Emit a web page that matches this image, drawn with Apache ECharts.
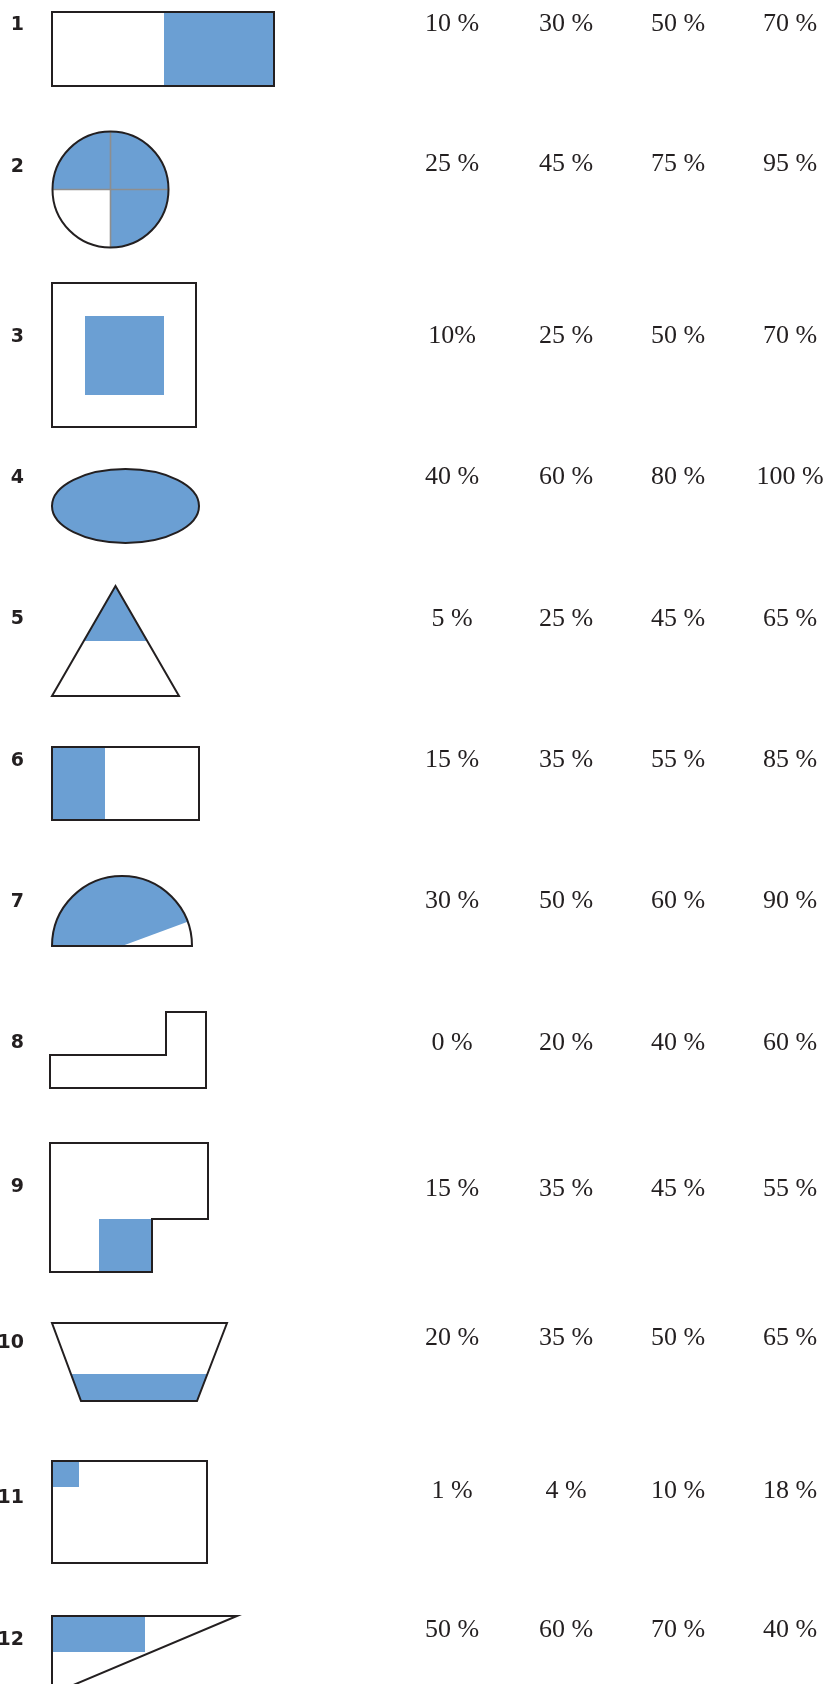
<!DOCTYPE html>
<html><head><meta charset="utf-8">
<script src="https://cdn.jsdelivr.net/npm/echarts@6/dist/echarts.min.js"></script>
<style>html,body{margin:0;padding:0;background:#fff}#c{width:827px;height:1684px}</style>
</head><body><div id="c"></div>
<script>
// ---- content ----
const rowLabels = ['1','2','3','4','5','6','7','8','9','10','11','12'];
const choiceA = ['10 %','25 %','10%','40 %','5 %','15 %','30 %','0 %','15 %','20 %','1 %','50 %'];
const choiceB = ['30 %','45 %','25 %','60 %','25 %','35 %','50 %','20 %','35 %','35 %','4 %','60 %'];
const choiceC = ['50 %','75 %','50 %','80 %','45 %','55 %','60 %','40 %','45 %','50 %','10 %','70 %'];
const choiceD = ['70 %','95 %','70 %','100 %','65 %','85 %','90 %','60 %','55 %','65 %','18 %','40 %'];

// ---- layout (axis units = page pixels) ----
const colX = [452, 566, 678, 790];
const textY = [24, 164.5, 336, 477, 619, 760, 901, 1043, 1189, 1338, 1491, 1630];
const labelY = [25, 167, 337, 478, 619, 761, 902, 1043, 1187, 1343, 1498, 1640];
const labelRight = 24;

const INK = '#231f20', BLUE = '#6b9fd3', GRAY = '#8e8e8e', LW = 2;
const choices = [choiceA, choiceB, choiceC, choiceD];

const textData = [];
rowLabels.forEach((r, i) => choices.forEach((col, j) => textData.push([colX[j], textY[i], i, j])));
const labelData = rowLabels.map((r, i) => [labelRight, labelY[i], i]);

function shapeItem(params, api) {
  const i = params.dataIndex;
  const P = (x, y) => api.coord([x, y]);
  const R = (x1, y1, x2, y2, style) => {
    const a = P(x1, y1), b = P(x2, y2);
    return {type: 'rect', shape: {x: a[0], y: a[1], width: b[0] - a[0], height: b[1] - a[1]}, style};
  };
  const G = (pts, style) => ({type: 'polygon', shape: {points: pts.map(p => P(p[0], p[1]))}, style});
  const fillS = {fill: BLUE};
  const lineS = {fill: 'none', stroke: INK, lineWidth: LW};
  let ch = [];
  switch (i) {
    case 0:
      ch = [R(164, 12, 274, 86, fillS), R(52, 12, 274, 86, lineS)]; break;
    case 1: {
      const c = P(110.5, 189.5), e = P(168.5, 189.5); const r = e[0] - c[0];
      const t = P(110.5, 131.5), b = P(110.5, 247.5), l = P(52.5, 189.5);
      ch = [
        {type: 'sector', shape: {cx: c[0], cy: c[1], r0: 0, r, startAngle: Math.PI, endAngle: Math.PI * 2.5, clockwise: true}, style: fillS},
        {type: 'line', shape: {x1: l[0], y1: l[1], x2: e[0], y2: e[1]}, style: {stroke: GRAY, lineWidth: 1.6}},
        {type: 'line', shape: {x1: t[0], y1: t[1], x2: b[0], y2: b[1]}, style: {stroke: GRAY, lineWidth: 1.6}},
        {type: 'circle', shape: {cx: c[0], cy: c[1], r}, style: lineS}
      ]; break;
    }
    case 2:
      ch = [R(85, 316, 164, 395, fillS), R(52, 283, 196, 427, lineS)]; break;
    case 3: {
      const c = P(125.5, 506), e = P(199, 543);
      ch = [{type: 'ellipse', shape: {cx: c[0], cy: c[1], rx: e[0] - c[0], ry: e[1] - c[1]}, style: {fill: BLUE, stroke: INK, lineWidth: LW}}]; break;
    }
    case 4:
      ch = [G([[115.5, 586], [147.2, 641], [83.8, 641]], fillS),
            G([[115.5, 586], [179, 696], [52, 696]], lineS)]; break;
    case 5:
      ch = [R(52, 747, 105, 820, fillS), R(52, 747, 199, 820, lineS)]; break;
    case 6: {
      const c = P(122, 946), e = P(192, 946); const r = e[0] - c[0];
      ch = [
        {type: 'sector', shape: {cx: c[0], cy: c[1], r0: 0, r, startAngle: Math.PI, endAngle: Math.PI * 2 - 20.3 * Math.PI / 180, clockwise: true}, style: fillS},
        {type: 'sector', shape: {cx: c[0], cy: c[1], r0: 0, r, startAngle: Math.PI, endAngle: Math.PI * 2, clockwise: true}, style: lineS}
      ]; break;
    }
    case 7:
      ch = [G([[50, 1055], [166, 1055], [166, 1012], [206, 1012], [206, 1088], [50, 1088]], lineS)]; break;
    case 8:
      ch = [R(99, 1219, 152, 1272, fillS),
            G([[50, 1143], [208, 1143], [208, 1219], [152, 1219], [152, 1272], [50, 1272]], lineS)]; break;
    case 9:
      ch = [G([[71, 1374], [207.4, 1374], [197, 1401], [81, 1401]], fillS),
            G([[52, 1323], [227, 1323], [197, 1401], [81, 1401]], lineS)]; break;
    case 10:
      ch = [R(52, 1461, 79, 1487, fillS), R(52, 1461, 207, 1563, lineS)]; break;
    case 11:
      ch = [R(52, 1616, 145, 1652, fillS),
            G([[52, 1616], [237, 1616], [52, 1694]], lineS)]; break;
  }
  return {type: 'group', children: ch};
}

const chart = echarts.init(document.getElementById('c'), null, {renderer: 'canvas'});
chart.setOption({
  animation: false,
  backgroundColor: '#ffffff',
  grid: {left: 0, right: 0, top: 0, bottom: 0},
  xAxis: {type: 'value', min: 0, max: 827, show: false},
  yAxis: {type: 'value', min: 0, max: 1684, inverse: true, show: false},
  series: [
    {
      type: 'custom', name: 'shapes', silent: true, clip: false,
      data: rowLabels.map((r, i) => [0, labelY[i]]),
      renderItem: shapeItem
    },
    {
      type: 'custom', name: 'labels', silent: true,
      data: labelData,
      renderItem: (params, api) => {
        const p = api.coord([api.value(0), api.value(1)]);
        return {type: 'text', x: p[0], y: p[1], style: {
          text: rowLabels[params.dataIndex], fill: INK, align: 'right', verticalAlign: 'middle',
          fontFamily: 'DejaVu Sans', fontWeight: 'bold', fontSize: 19}};
      }
    },
    {
      type: 'custom', name: 'choices', silent: true,
      data: textData,
      renderItem: (params, api) => {
        const d = textData[params.dataIndex];
        const p = api.coord([d[0], d[1]]);
        return {type: 'text', x: p[0], y: p[1], style: {
          text: choices[d[3]][d[2]], fill: INK, align: 'center', verticalAlign: 'middle',
          fontFamily: 'Liberation Serif', fontSize: 26}};
      }
    }
  ]
});
</script></body></html>
